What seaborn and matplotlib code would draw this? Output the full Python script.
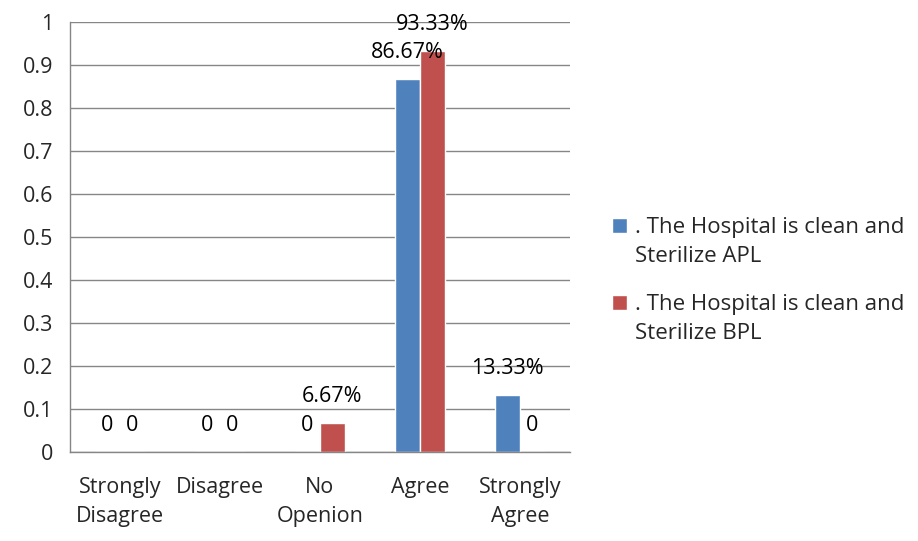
import pandas as pd
import matplotlib.pyplot as plt
import seaborn as sns

categorias = ['Strongly\nDisagree', 'Disagree', 'No\nOpenion', 'Agree', 'Strongly\nAgree']
apl = [0, 0, 0, 0.8667, 0.1333]
bpl = [0, 0, 0.0667, 0.9333, 0]
rotulos_apl = ['0', '0', '0', '86.67%', '13.33%']
rotulos_bpl = ['0', '0', '6.67%', '93.33%', '0']
series = ['. The Hospital is clean and\nSterilize APL', '. The Hospital is clean and\nSterilize BPL']

dados = pd.DataFrame({
    'categoria': categorias * 2,
    'valor': apl + bpl,
    'serie': [series[0]] * 5 + [series[1]] * 5,
})

sns.set_style('white')
plt.rcParams['font.family'] = ['Open Sans', 'DejaVu Sans']
fs = 15.5

fig = plt.figure(figsize=(9.18, 5.41), dpi=100)
ax = fig.add_axes([0.076, 0.1645, 0.545, 0.795])

sns.barplot(data=dados, x='categoria', y='valor', hue='serie', order=categorias,
            hue_order=series, palette=['#4F81BD', '#C0504D'], width=0.5,
            saturation=1, ax=ax, legend=True)

# rótulos de dados
for cont, rot in zip(ax.containers, [rotulos_apl, rotulos_bpl]):
    for barra, texto in zip(cont, rot):
        ax.annotate(texto, (barra.get_x() + barra.get_width() / 2, barra.get_height()),
                    xytext=(0, 19), textcoords='offset points', ha='center', va='center',
                    fontsize=fs, color='black')

ax.set_ylim(0, 1)
ax.set_xlim(-0.5, 4.5)
ax.set_yticks([i / 10 for i in range(11)])
ax.set_yticklabels(['0'] + [f'{i / 10:g}' for i in range(1, 10)] + ['1'])
ax.yaxis.grid(True, color='#868686', linewidth=1)
ax.set_axisbelow(True)
ax.set_xlabel('')
ax.set_ylabel('')

for lado in ['top', 'right']:
    ax.spines[lado].set_visible(False)
for lado in ['left', 'bottom']:
    ax.spines[lado].set_color('#868686')
    ax.spines[lado].set_linewidth(1)

ax.set_xticks([i - 0.5 for i in range(6)], minor=True)
ax.tick_params(axis='x', which='major', length=0, pad=18, labelsize=fs)
ax.tick_params(axis='x', which='minor', length=7, color='#868686', direction='out', width=1)
ax.tick_params(axis='y', length=6, color='#868686', direction='out', labelsize=fs, pad=6)
for t in ax.get_xticklabels():
    t.set_verticalalignment('top')
    t.set_linespacing(1.5)

handles, labels = ax.get_legend_handles_labels()
ax.get_legend().remove()
leg = fig.legend(handles, labels, loc='center left', bbox_to_anchor=(0.667, 0.482),
                 frameon=False, fontsize=16, handlelength=0.65, handleheight=0.65,
                 handletextpad=0.35, labelspacing=1.2, borderaxespad=0, borderpad=0)
for t in leg.get_texts():
    t.set_linespacing(1.5)
# quadradinho alinhado com a primeira linha, como no Excel
for h in leg.legend_handles:
    h.set_y(h.get_y() + 12)

plt.savefig('out.png', dpi=100)
